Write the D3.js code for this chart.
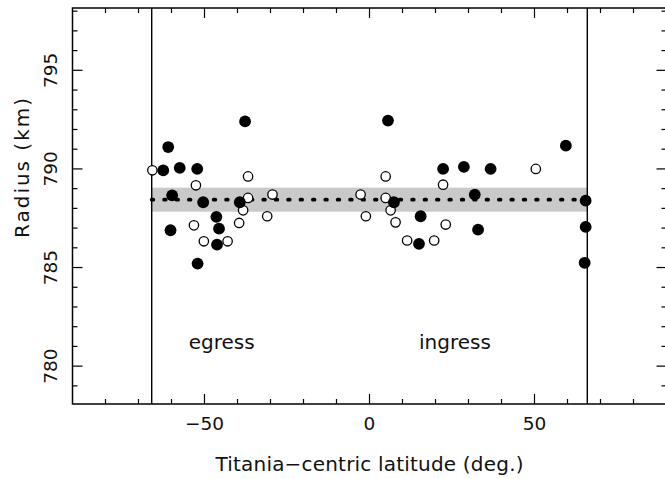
<!DOCTYPE html>
<html>
<head>
<meta charset="utf-8">
<script src="https://cdn.jsdelivr.net/npm/d3@7"></script>
<style>
  html, body { margin: 0; padding: 0; background: #fff; }
  svg { display: block; }
  text { font-family: "DejaVu Sans", sans-serif; fill: #111; }
</style>
</head>
<body>
<svg id="chart" width="665" height="479"></svg>
<script>
// ---- Data ----
const xDomain = [-90, 90];
const yDomain = [778.08, 798.16];
const xTicksMajor = [-50, 0, 50];
const yTicksMajor = [780, 785, 790, 795];
const limbLat = [-66, 66];            // vertical lines
const meanRadius = 788.44;            // dotted line
const bandRadius = [787.83, 789.05];  // grey band

// filled circles
const filledLat = [-62.5, -61.0, -57.5, -52.2, -59.8, -50.4, -60.3, -46.4, -45.6, -46.2, -52.1, -37.7, -39.3,
                   5.6, 7.4, 15.5, 15.0, 22.3, 28.6, 36.7, 31.9, 32.9, 59.5, 65.5, 65.5, 65.2];
const filledRad = [789.93, 791.11, 790.05, 790.0, 788.66, 788.31, 786.89, 787.57, 786.97, 786.16, 785.2, 792.41, 788.31,
                   792.45, 788.31, 787.6, 786.2, 790.0, 790.1, 790.0, 788.7, 786.92, 791.18, 788.39, 787.06, 785.24];
// open circles
const openLat = [-65.8, -52.6, -53.2, -50.2, -43.0, -36.8, -36.8, -38.3, -39.5, -29.4, -31.0,
                 -2.7, -1.1, 4.9, 4.9, 6.4, 7.9, 11.4, 19.6, 23.1, 22.3, 50.4];
const openRad = [789.93, 789.17, 787.14, 786.33, 786.33, 789.62, 788.53, 787.90, 787.26, 788.70, 787.60,
                 788.70, 787.60, 789.62, 788.53, 787.90, 787.29, 786.37, 786.37, 787.18, 789.2, 790.0];

const annotations = [
  { text: "egress", lat: -44.8, rad: 780.89 },
  { text: "ingress", lat: 25.9, rad: 780.89 }
];

// ---- Drawing ----
const svg = d3.select("#chart");
const x = d3.scaleLinear().domain(xDomain).range([72.5, 666.5]);
const y = d3.scaleLinear().domain(yDomain).range([404, 8]);

// grey band
svg.append("rect")
  .attr("x", x(limbLat[0])).attr("width", x(limbLat[1]) - x(limbLat[0]))
  .attr("y", y(bandRadius[1])).attr("height", y(bandRadius[0]) - y(bandRadius[1]))
  .attr("fill", "#c9c9c9");

// dotted mean line
svg.append("line")
  .attr("x1", x(limbLat[0])).attr("x2", x(limbLat[1]))
  .attr("y1", y(meanRadius)).attr("y2", y(meanRadius))
  .attr("stroke", "#000").attr("stroke-width", 3.8)
  .attr("stroke-linecap", "round").attr("stroke-dasharray", "1.6 10.8");

// vertical limb lines
svg.selectAll("line.limb").data(limbLat).join("line")
  .attr("class", "limb")
  .attr("x1", d => x(d)).attr("x2", d => x(d))
  .attr("y1", y(yDomain[0])).attr("y2", y(yDomain[1]))
  .attr("stroke", "#000").attr("stroke-width", 1.4);

// open circles
svg.selectAll("circle.open").data(openLat.map((d, i) => [d, openRad[i]])).join("circle")
  .attr("class", "open")
  .attr("cx", d => x(d[0])).attr("cy", d => y(d[1])).attr("r", 4.7)
  .attr("fill", "#fff").attr("stroke", "#000").attr("stroke-width", 1.3);

// filled circles
svg.selectAll("circle.filled").data(filledLat.map((d, i) => [d, filledRad[i]])).join("circle")
  .attr("class", "filled")
  .attr("cx", d => x(d[0])).attr("cy", d => y(d[1])).attr("r", 5.9)
  .attr("fill", "#000");

// frame
svg.append("rect")
  .attr("x", x(xDomain[0])).attr("y", y(yDomain[1]))
  .attr("width", x(xDomain[1]) - x(xDomain[0])).attr("height", y(yDomain[0]) - y(yDomain[1]))
  .attr("fill", "none").attr("stroke", "#000").attr("stroke-width", 1.5);

// ticks (inward on all four sides)
const xMinor = d3.range(-80, 81, 10);
const yMinor = d3.range(779, 799, 1);
const tickG = svg.append("g").attr("stroke", "#000").attr("stroke-width", 1.2);
xMinor.forEach(v => {
  const len = xTicksMajor.includes(v) ? 10 : 5;
  tickG.append("line").attr("x1", x(v)).attr("x2", x(v)).attr("y1", y(yDomain[0])).attr("y2", y(yDomain[0]) - len);
  tickG.append("line").attr("x1", x(v)).attr("x2", x(v)).attr("y1", y(yDomain[1])).attr("y2", y(yDomain[1]) + len);
});
yMinor.forEach(v => {
  const len = yTicksMajor.includes(v) ? 10 : 5;
  tickG.append("line").attr("y1", y(v)).attr("y2", y(v)).attr("x1", x(xDomain[0])).attr("x2", x(xDomain[0]) + len);
  tickG.append("line").attr("y1", y(v)).attr("y2", y(v)).attr("x1", x(xDomain[1])).attr("x2", x(xDomain[1]) - len);
});

// tick labels
svg.selectAll("text.xt").data(xTicksMajor).join("text")
  .attr("class", "xt")
  .attr("x", d => x(d)).attr("y", 430)
  .attr("text-anchor", "middle").attr("font-size", 18.5)
  .text(d => d < 0 ? "\u2212" + Math.abs(d) : d);

svg.selectAll("text.yt").data(yTicksMajor).join("text")
  .attr("class", "yt")
  .attr("transform", d => `translate(57,${y(d)}) rotate(-90)`)
  .attr("text-anchor", "middle").attr("font-size", 18.5)
  .text(d => d);

// axis titles
svg.append("text")
  .attr("x", x(0)).attr("y", 471)
  .attr("text-anchor", "middle").attr("font-size", 20)
  .attr("textLength", 308).attr("lengthAdjust", "spacing")
  .text("Titania\u2212centric latitude (deg.)");

svg.append("text")
  .attr("transform", "translate(29,168) rotate(-90)")
  .attr("text-anchor", "middle").attr("font-size", 20)
  .attr("textLength", 140).attr("lengthAdjust", "spacing")
  .text("Radius (km)");

// annotations
svg.selectAll("text.ann").data(annotations).join("text")
  .attr("class", "ann")
  .attr("x", d => x(d.lat)).attr("y", d => y(d.rad))
  .attr("text-anchor", "middle").attr("font-size", 20)
  .text(d => d.text);
</script>
</body>
</html>
